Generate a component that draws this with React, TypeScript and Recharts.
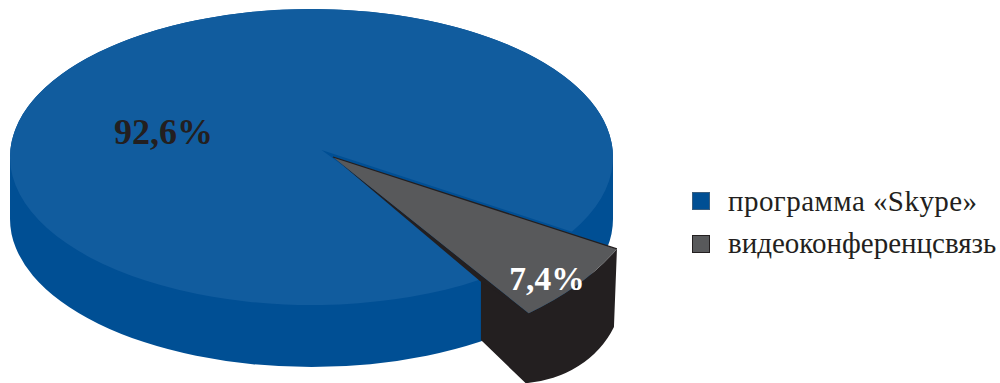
import { PieChart, Pie, Cell, Legend } from 'recharts'

const names = ['программа «Skype»', 'видеоконференцсвязь']
const shares = [92.6, 7.4]
const topColors = ['#115c9e', '#58595b']
const swatchColors = ['#004f94', '#58595b']
const swatchBorders = ['#3b5f80', '#231f20']

const data = names.map((name, i) => ({ name, value: shares[i] }))

const SIDE_BLUE = '#004f94'
const SIDE_BLACK = '#231f20'
const SQUASH = 148 / 301.5
const DEPTH = 62

const polar = (x: number, y: number, rx: number, ry: number, deg: number) => {
  const a = (deg * Math.PI) / 180
  return [x + rx * Math.cos(a), y - ry * Math.sin(a)]
}

const xy = (p: number[]) => `${p[0]} ${p[1]}`

// the big slice: squashed drum plus a top face with a notch for the pulled-out piece
function BlueSlice({ cx, cy, outerRadius: r, startAngle, endAngle, fill }: any) {
  const ry = r * SQUASH
  const body = `M ${cx - r} ${cy} L ${cx - r} ${cy + DEPTH} A ${r} ${ry} 0 0 0 ${cx + r} ${cy + DEPTH} L ${cx + r} ${cy} A ${r} ${ry} 0 0 0 ${cx - r} ${cy} Z`
  // start a little early so the corner tucks under the grey piece
  const from = polar(cx, cy, r, ry, startAngle + 4)
  const to = polar(cx, cy, r, ry, endAngle)
  const top = `M ${xy(from)} A ${r} ${ry} 0 1 1 ${xy(to)} L ${cx + 10} ${cy - 7} Z`
  return (
    <g>
      <path d={body} fill={SIDE_BLUE} />
      <path d={top} fill={fill} />
    </g>
  )
}

// the small slice, pulled out to the right with a taller black wall
function GreySlice({ cx, cy, startAngle, endAngle, fill }: any) {
  const ax = cx + 21.5
  const rx = 321
  const ry = 197
  const upper = polar(ax, cy, rx, ry, startAngle + 2.5)
  const lower = polar(ax, cy, rx, ry, endAngle + 4.5)
  const t = 0.756
  const wallTop = [ax + (lower[0] - ax) * t, cy + (lower[1] - cy) * t + 3]
  const wall = [
    `M ${xy(wallTop)}`,
    `L ${xy(lower)}`,
    `A ${rx} ${ry} 0 0 0 ${xy(upper)}`,
    `L ${upper[0] - 3} ${upper[1] + 78}`,
    `A 105 95 0 0 1 ${lower[0] - 3} ${lower[1] + 70}`,
    `L ${wallTop[0]} ${wallTop[1] + 62}`,
    'Z',
  ].join(' ')
  const face = `M ${ax} ${cy} L ${xy(upper)} A ${rx} ${ry} 0 0 1 ${xy(lower)} Z`
  return (
    <g>
      <path d={wall} fill={SIDE_BLACK} />
      <path d={`M ${ax} ${cy} L ${xy(lower)} L ${wallTop[0] - 1} ${wallTop[1] + 3} Z`} fill={SIDE_BLACK} />
      <path d={face} fill={fill} />
      <path d={`M ${ax} ${cy} L ${xy(upper)}`} stroke={SIDE_BLACK} strokeWidth={1.3} fill="none" />
    </g>
  )
}

const renderSlice = (props: any) =>
  props.name === names[0] ? <BlueSlice {...props} /> : <GreySlice {...props} />

const labelSpots = [
  { dx: -148, dy: -13, fill: '#231f20', size: 36 },
  { dx: 235.5, dy: 133, fill: '#ffffff', size: 33.5 },
]

const renderLabel = ({ cx, cy, index, value }: any) => {
  const spot = labelSpots[index]
  return (
    <text
      x={cx + spot.dx}
      y={cy + spot.dy}
      textAnchor="middle"
      fill={spot.fill}
      fontFamily="'Liberation Serif', serif"
      fontWeight="bold"
      fontSize={spot.size}
    >
      {`${String(value).replace('.', ',')}%`}
    </text>
  )
}

const rowSpacing = [0.45, 0]

const LegendRows = () => (
  <div style={{ fontFamily: "'Liberation Serif', serif", fontSize: 29, color: '#231f20' }}>
    {names.map((name, i) => (
      <div
        key={name}
        style={{ display: 'flex', alignItems: 'center', height: 42.5, whiteSpace: 'nowrap', letterSpacing: rowSpacing[i] }}
      >
        <span
          style={{
            width: 16,
            height: 16,
            background: swatchColors[i],
            border: `1px solid ${swatchBorders[i]}`,
            marginRight: 18,
            flex: 'none',
          }}
        />
        {name}
      </div>
    ))}
  </div>
)

export default function App() {
  return (
    <div style={{ position: 'absolute', left: 0, top: 0, width: 1000, height: 383 }}>
      <PieChart width={1000} height={383} margin={{ top: 0, right: 0, bottom: 0, left: 0 }}>
        <Pie
          data={data}
          dataKey="value"
          nameKey="name"
          cx={311.5}
          cy={157}
          outerRadius={301.5}
          startAngle={303.06}
          endAngle={-56.94}
          paddingAngle={0}
          stroke="none"
          shape={renderSlice}
          label={renderLabel}
          labelLine={false}
          isAnimationActive={false}
        >
          {names.map((name, i) => (
            <Cell key={name} fill={topColors[i]} />
          ))}
        </Pie>
        <Legend
          content={<LegendRows />}
          layout="vertical"
          wrapperStyle={{ position: 'absolute', left: 692, top: 180, width: 308, bottom: 'auto' }}
        />
      </PieChart>
    </div>
  )
}
